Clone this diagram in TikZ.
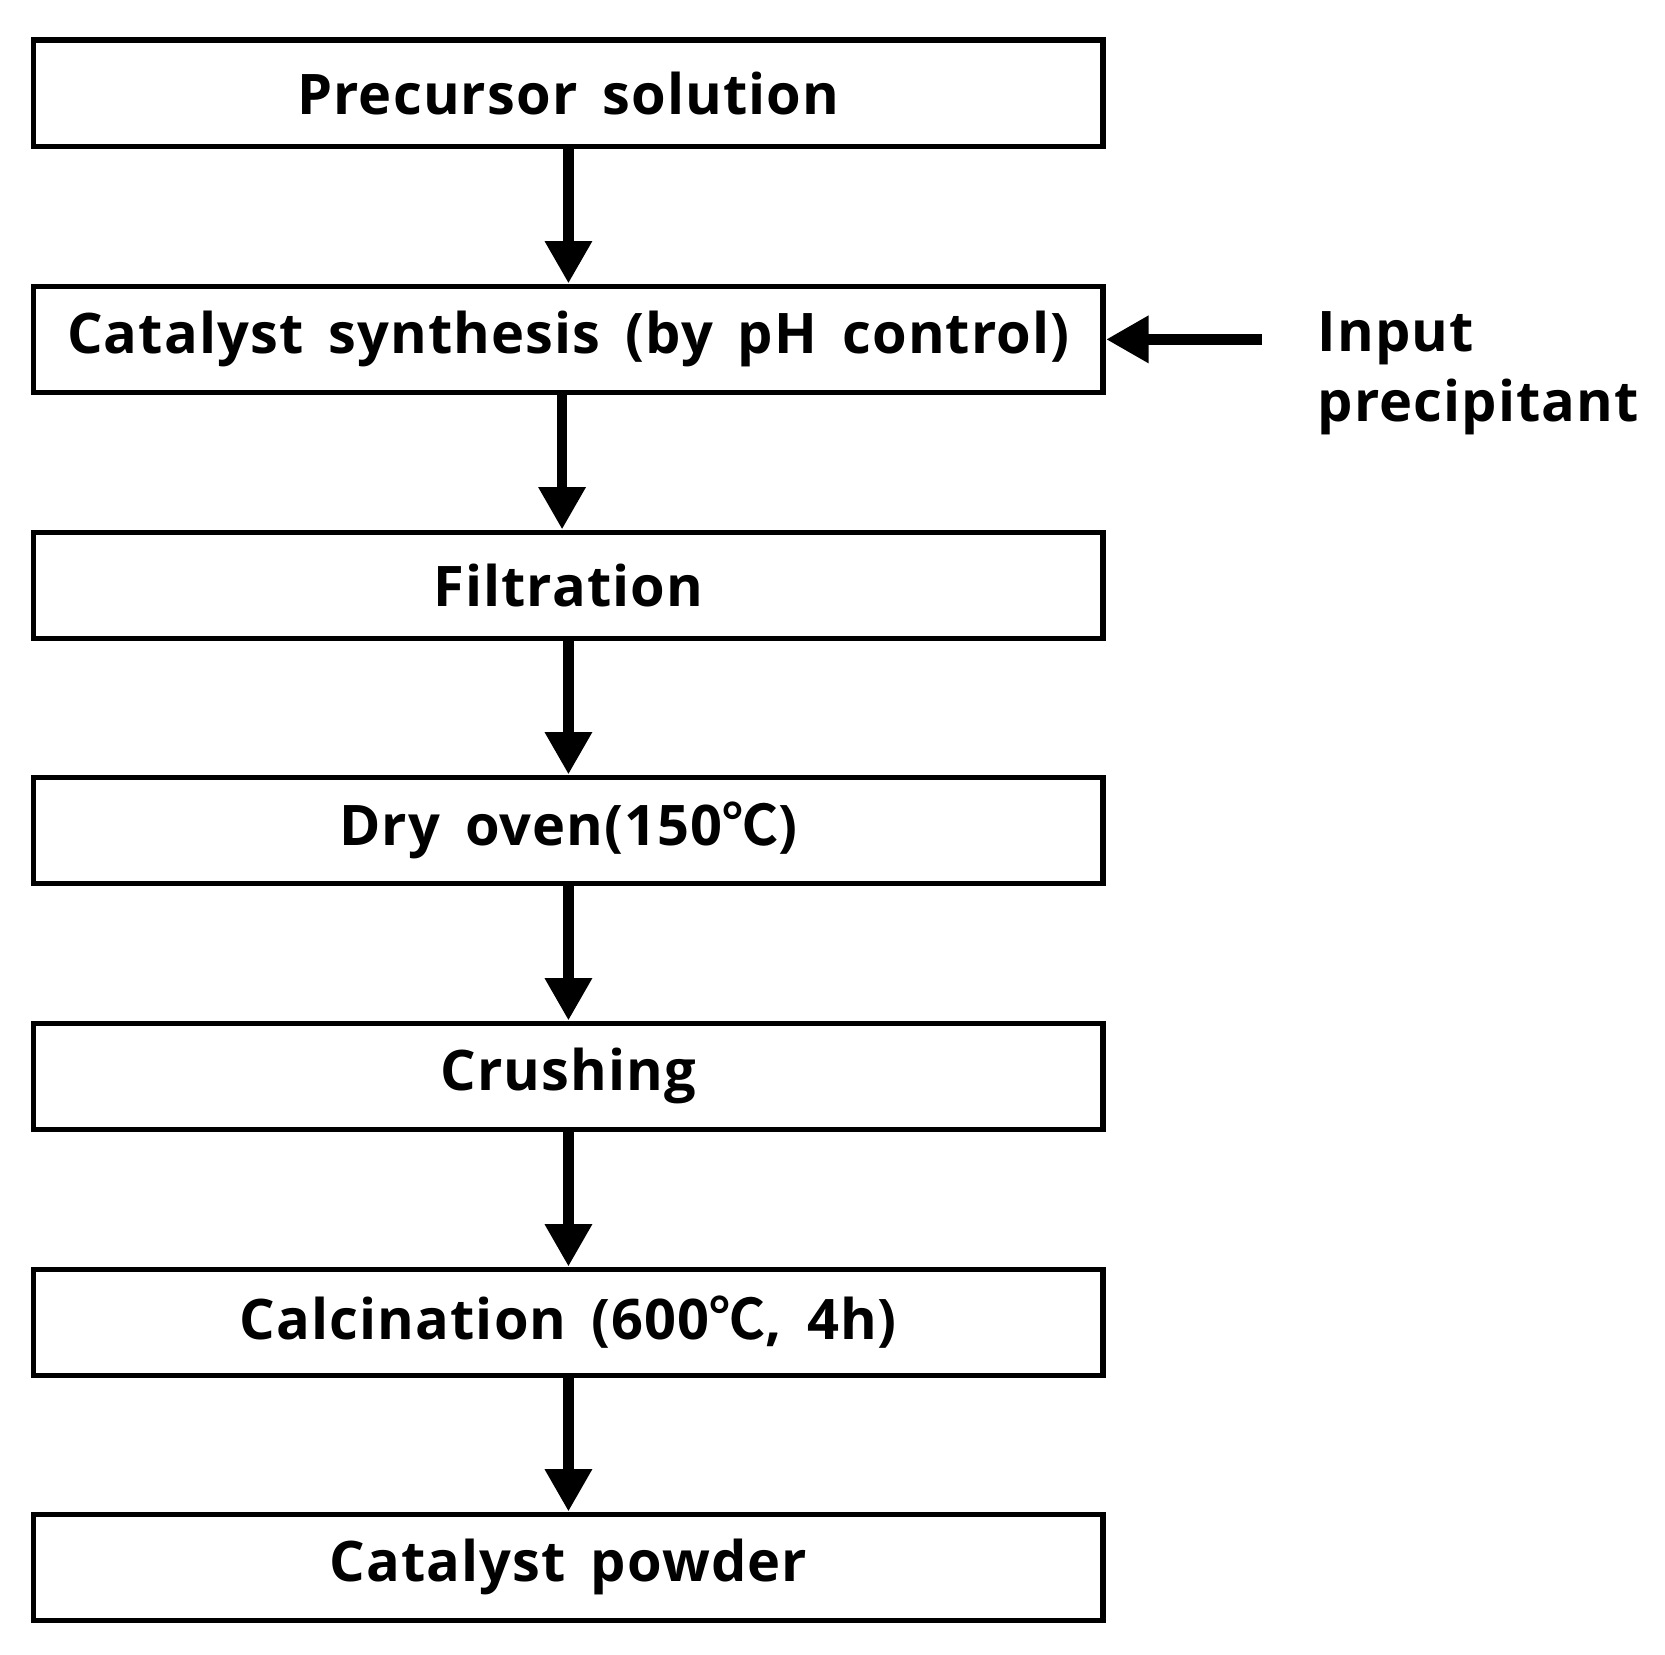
\documentclass[tikz,border=0pt]{standalone}
\usepackage{fontspec}
\setmainfont{Open Sans}[LetterSpace=2,WordSpace=1.6]
\newfontfamily\cjk{Noto Sans CJK KR}[BoldFont=* Bold]
\newcommand{\degc}{{\cjk ℃}}
\usetikzlibrary{arrows.meta}
\begin{document}
\begin{tikzpicture}[x=0.01cm,y=-0.01cm,
  box/.style={draw,line width=1.5pt,minimum width=10.08cm,minimum height=1.0cm,inner sep=0pt,font=\fontsize{15}{17}\selectfont\bfseries},
  arr/.style={line width=2.9pt,-{Triangle[width=0.42cm,length=0.4cm]}}]
\useasboundingbox (0,0) rectangle (1570,1560);
\node[box] (b1) at (536,88) {Precursor solution};
\node[box] (b2) at (536,320) {Catalyst synthesis (by pH control)};
\node[box] (b3) at (536,552) {Filtration};
\node[box] (b4) at (536,783) {Dry oven(150\degc)};
\node[box] (b5) at (536,1015) {Crushing};
\node[box] (b6) at (536,1247) {Calcination (600\degc, 4h)};
\node[box] (b7) at (536,1478) {Catalyst powder};
\node[font=\fontsize{15}{19}\selectfont\bfseries,align=left,anchor=west] (inp) at (1230,352) {Input\\precipitant};
\coordinate (s) at (1190,320);
\draw[arr] (b1.south) -- (b2.north);
\draw[arr] ([xshift=-0.06cm]b2.south) -- ([xshift=-0.06cm]b3.north);
\draw[arr] (b3) -- (b4);
\draw[arr] (b4) -- (b5);
\draw[arr] (b5) -- (b6);
\draw[arr] (b6) -- (b7);
\draw[arr] (s) -- (b2.east);
\end{tikzpicture}
\end{document}
